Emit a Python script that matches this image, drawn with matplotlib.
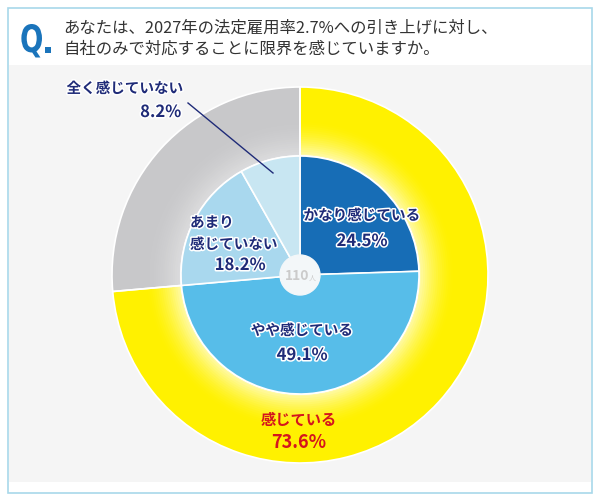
import numpy as np
import matplotlib.pyplot as plt
from matplotlib import patheffects as pe
from matplotlib.patches import Rectangle, Circle, PathPatch
from matplotlib.textpath import TextPath
from matplotlib.font_manager import FontProperties
from matplotlib.path import Path
from matplotlib.colors import to_rgb

plt.rcParams['font.family'] = ['Noto Sans CJK JP', 'DejaVu Sans']

# data
title_lines = ['あなたは、2027年の法定雇用率2.7%への引き上げに対し、',
               '自社のみで対応することに限界を感じていますか。']
inner_labels = ['かなり感じている', 'やや感じている', 'あまり\n感じていない', '全く感じていない']
inner_values = [24.5, 49.1, 18.2, 8.2]
inner_colors = ['#176db6', '#57bde9', '#a9d8ee', '#c8e6f2']
outer_labels = ['感じている', '感じていない']
outer_values = [73.6, 26.4]
outer_colors = ['#fff100', '#c8c8ca']
total_n = 110

W, H = 600, 503
cx, cy = 300, 275
r_out, r_in, r_hole = 188, 119, 20
navy = '#1f2b78'
qblue = '#1a74bb'

fig = plt.figure(figsize=(W / 100, H / 100), dpi=100)
ax = fig.add_axes([0, 0, 1, 1])
ax.set_xlim(0, W)
ax.set_ylim(H, 0)
ax.axis('off')


def glyph(s, x0, x1, top, base):
    # text outline squeezed into a box (narrow "Q" like the reference)
    tp = TextPath((0, 0), s, size=50, prop=FontProperties(family='DejaVu Sans', weight='bold'))
    v = tp.vertices.copy()
    xmin, xmax = v[:, 0].min(), v[:, 0].max()
    ymax = v[:, 1].max()
    sy = (base - top) / ymax
    v[:, 0] = x0 + (v[:, 0] - xmin) * (x1 - x0) / (xmax - xmin)
    v[:, 1] = base - v[:, 1] * sy
    ax.add_patch(PathPatch(Path(v, tp.codes), fc=qblue, ec='none', zorder=3))


# frame / background
ax.add_patch(Rectangle((0, 0), W, H, color='white', zorder=0))
ax.add_patch(Rectangle((9, 65), 582, 417, color='#f5f5f5', zorder=0.5, lw=0))
ax.add_patch(Rectangle((8, 8), 584, 485, fill=False, ec='#a8d8ea', lw=1.2, zorder=0.6))

# header
glyph('Q', 20, 42, 24, 52)
ax.add_patch(Rectangle((45, 46.5), 6, 6, color=qblue, lw=0, zorder=3))
for i, line in enumerate(title_lines):
    ax.text(63, 28 + i * 21, line, fontsize=11.8, color='#333333', va='center', ha='left')

# outer ring with glow near inner edge
ax.pie(outer_values, colors=outer_colors, radius=r_out, center=(cx, cy),
       startangle=-90, counterclock=True,
       wedgeprops=dict(width=r_out - r_in, lw=0))
n_glow = 16
glow_w = 34
for k in range(n_glow):
    t = (k + 1) / n_glow
    r = r_in + glow_w * (1 - k / n_glow)
    cols = []
    for c, amt in zip(outer_colors, [0.65, 0.35]):
        base = np.array(to_rgb(c))
        cols.append(tuple(base + (1 - base) * amt * t ** 1.6))
    ax.pie(outer_values, colors=cols, radius=r, center=(cx, cy),
           startangle=-90, counterclock=True,
           wedgeprops=dict(width=r - r_in, lw=0))
edges, _ = ax.pie(outer_values, colors=outer_colors, radius=r_out, center=(cx, cy),
                  startangle=-90, counterclock=True,
                  wedgeprops=dict(width=r_out - r_in, ec='white', lw=1.2))
for w in edges:
    w.set_facecolor('none')

# inner pie
ax.pie(inner_values, colors=inner_colors, radius=r_in, center=(cx, cy),
       startangle=-90, counterclock=True,
       wedgeprops=dict(ec='white', lw=1.2))

ax.add_patch(Circle((cx, cy), r_hole, color='#f3f7f9', zorder=5))
ax.text(cx - 3, cy + 1, str(total_n), fontsize=10, fontweight='bold', color='#cbcbcb',
        ha='center', va='center', zorder=6)
ax.text(cx + 12, cy + 4, '人', fontsize=5, color='#cbcbcb', ha='center', va='center', zorder=6)

ax.set_xlim(0, W)
ax.set_ylim(H, 0)
ax.set_aspect('auto')

stroke = [pe.withStroke(linewidth=2.2, foreground='white')]
lab_kw = dict(color=navy, fontweight='bold', zorder=7, path_effects=stroke)

ax.text(362, 215, inner_labels[0], fontsize=10.5, ha='center', va='center', **lab_kw)
ax.text(362, 241, f'{inner_values[0]}%', fontsize=12, ha='center', va='center', **lab_kw)

ax.text(302, 330, inner_labels[1], fontsize=10.5, ha='center', va='center', **lab_kw)
ax.text(302, 355, f'{inner_values[1]}%', fontsize=12, ha='center', va='center', **lab_kw)

ax.text(190, 233, inner_labels[2], fontsize=10.5, ha='left', va='center',
        linespacing=1.45, **lab_kw)
ax.text(240, 265, f'{inner_values[2]}%', fontsize=12, ha='center', va='center', **lab_kw)

ax.text(125, 88, inner_labels[3], fontsize=10.5, ha='center', va='center', **lab_kw)
ax.text(181, 112, f'{inner_values[3]}%', fontsize=12, ha='right', va='center', **lab_kw)
ax.plot([188, 273], [103, 173], color=navy, lw=1, zorder=7)

red_kw = dict(color='#d4151d', fontweight='bold', zorder=7, ha='center', va='center')
ax.text(299, 420, outer_labels[0], fontsize=11, **red_kw)
ax.text(299, 442, f'{outer_values[0]}%', fontsize=13, **red_kw)

fig.savefig('out.png', dpi=100)
